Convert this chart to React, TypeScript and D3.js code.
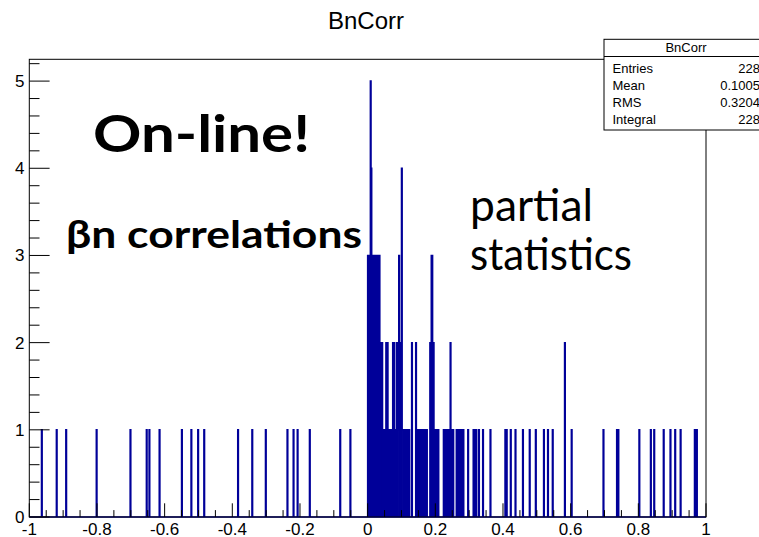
import React from "react";
import * as d3 from "d3";

// ---- data ----
const binCenters: number[] = [
  -0.963, -0.919, -0.891, -0.801, -0.701, -0.653, -0.645, -0.615, -0.549, -0.521, -0.501, -0.483,
  -0.383, -0.341, -0.301, -0.237, -0.219, -0.207, -0.171, -0.081, -0.051,
  0.001, 0.003, 0.005, 0.007, 0.009, 0.011,
  0.013, 0.015, 0.017, 0.019, 0.021, 0.023, 0.025, 0.027, 0.029, 0.031, 0.033, 0.035, 0.037,
  0.039, 0.041, 0.043,
  0.047, 0.051, 0.055, 0.059, 0.063, 0.067, 0.071, 0.075, 0.079, 0.083, 0.087, 0.091,
  0.093, 0.095, 0.099, 0.101, 0.103, 0.107, 0.111, 0.115, 0.119, 0.123,
  0.131, 0.143, 0.147, 0.151, 0.155, 0.159, 0.163, 0.167, 0.171, 0.175,
  0.185, 0.189, 0.191, 0.195, 0.199, 0.203, 0.209,
  0.225, 0.229, 0.233, 0.237, 0.241, 0.245, 0.249, 0.253,
  0.263, 0.267, 0.271, 0.275, 0.279, 0.283,
  0.297, 0.313, 0.317, 0.321, 0.329, 0.341,
  0.363, 0.407, 0.411, 0.423, 0.437, 0.459, 0.479, 0.497, 0.521, 0.533, 0.547, 0.583, 0.603,
  0.697, 0.737, 0.741, 0.803, 0.837, 0.847, 0.875, 0.895, 0.909, 0.925, 0.967, 0.973,
];
const binCounts: number[] = [
  1, 1, 1, 1, 1, 1, 1, 1, 1, 1, 1, 1,
  1, 1, 1, 1, 1, 1, 1, 1, 1,
  3, 2, 3, 2, 5, 4,
  1, 3, 1, 3, 1, 3, 1, 3, 1, 3, 1, 3, 1,
  2, 1, 2,
  1, 1, 2, 2, 1, 1, 1, 2, 2, 1, 2, 1,
  3, 1, 2, 4, 1, 1, 1, 1, 1, 1,
  2, 2, 1, 1, 1, 1, 1, 1, 1, 1,
  2, 3, 3, 2, 1, 1, 1,
  1, 1, 1, 1, 1, 2, 1, 1,
  1, 1, 1, 1, 1, 1,
  1, 1, 1, 1, 1, 1,
  1, 1, 1, 1, 1, 1, 1, 1, 1, 1, 1, 2, 1,
  1, 1, 1, 1, 1, 1, 1, 1, 1, 1, 1, 1,
];
const nBins = 1000;
const xRange: [number, number] = [-1, 1];
const yMax = 5.25;
const xTickLabels = ["-1", "-0.8", "-0.6", "-0.4", "-0.2", "0", "0.2", "0.4", "0.6", "0.8", "1"];
const yTickLabels = ["0", "1", "2", "3", "4", "5"];
const histTitle = "BnCorr";
const statNames = ["Entries", "Mean", "RMS", "Integral"];
const statValues = ["228", "0.1005", "0.3204", "228"];

// ---- layout ----
const W = 759, H = 537;
const L = 29.3, R = 706, T = 59.3, B = 517;
const HIST = "#000099";
const SANS = "'Liberation Sans', Arial, sans-serif";
const NOTE = "Lato, 'Open Sans', sans-serif";

export default function App() {
  const x = d3.scaleLinear().domain(xRange).range([L, R]);
  const y = d3.scaleLinear().domain([0, yMax]).range([B, T]);

  const counts = new Array(nBins).fill(0);
  const bw = (xRange[1] - xRange[0]) / nBins;
  binCenters.forEach((v, i) => {
    const k = Math.floor((v - xRange[0]) / bw);
    if (k >= 0 && k < nBins) counts[k] += binCounts[i];
  });

  // ROOT style outline (step) histogram, filled underneath
  const pts: [number, number][] = [[x(xRange[0]), y(0)]];
  counts.forEach((c, k) => {
    const x0 = x(xRange[0] + k * bw);
    const x1 = x(xRange[0] + (k + 1) * bw);
    pts.push([x0, y(c)]);
    pts.push([x1, y(c)]);
  });
  pts.push([x(xRange[1]), y(0)]);
  const path = d3.line()(pts) || "";

  const xMinor = d3.range(0, 41).map((i) => -1 + i * 0.05);
  const yMinor = d3.range(0, 27).map((i) => i * 0.2).filter((v) => v <= yMax);

  return (
    <svg width={W} height={H} style={{ position: "absolute", left: 0, top: 0, background: "#fff" }}>
      <rect x={0} y={0} width={W} height={H} fill="#fff" />
      {/* title */}
      <text x={366} y={29.3} textAnchor="middle" fontFamily={SANS} fontSize={24} fill="#000">
        {histTitle}
      </text>
      {/* histogram */}
      <path d={path + "Z"} fill={HIST} stroke={HIST} strokeWidth={1.5} strokeLinejoin="miter" />
      {/* frame */}
      <rect x={L} y={T} width={R - L} height={B - T} fill="none" stroke="#000" strokeWidth={1} />
      {/* x ticks */}
      {xMinor.map((v, i) => {
        const major = i % 4 === 0;
        const len = major ? 13.7 : 6.9;
        return <line key={"xt" + i} x1={x(v)} x2={x(v)} y1={B} y2={B - len} stroke="#000" strokeWidth={1} />;
      })}
      {xTickLabels.map((t, i) => (
        <text key={"xl" + i} x={x(-1 + i * 0.2)} y={535} textAnchor="middle" fontFamily={SANS} fontSize={17} fill="#000">
          {t}
        </text>
      ))}
      {/* y ticks */}
      {yMinor.map((v, i) => {
        const major = i % 5 === 0;
        const len = major ? 20.3 : 10.2;
        return <line key={"yt" + i} x1={L} x2={L + len} y1={y(v)} y2={y(v)} stroke="#000" strokeWidth={1} />;
      })}
      {yTickLabels.map((t, i) => (
        <text key={"yl" + i} x={24.5} y={y(i)} dy="0.35em" textAnchor="end" fontFamily={SANS} fontSize={17} fill="#000">
          {t}
        </text>
      ))}
      {/* stats box */}
      <rect x={604} y={39.3} width={170} height={90.7} fill="#fff" stroke="#000" strokeWidth={1} />
      <line x1={604} x2={774} y1={56.5} y2={56.5} stroke="#000" strokeWidth={1} />
      <text x={686} y={52} textAnchor="middle" fontFamily={SANS} fontSize={13} fill="#000">
        {histTitle}
      </text>
      {statNames.map((n, i) => (
        <g key={"st" + i}>
          <text x={612.5} y={72.5 + i * 17} fontFamily={SANS} fontSize={13} fill="#000">
            {n}
          </text>
          <text x={760} y={72.5 + i * 17} textAnchor="end" fontFamily={SANS} fontSize={13} fill="#000">
            {statValues[i]}
          </text>
        </g>
      ))}
      {/* annotations */}
      <text x={93} y={152} fontFamily={NOTE} fontWeight="bold" fontSize={52} fill="#000" textLength={217} lengthAdjust="spacingAndGlyphs">
        On-line!
      </text>
      <text x={66} y={248} fontFamily={NOTE} fontWeight="bold" fontSize={38} fill="#000" textLength={296} lengthAdjust="spacingAndGlyphs">
        βn correlations
      </text>
      <text x={470} y={221} fontFamily={NOTE} fontSize={44} fill="#000" textLength={123} lengthAdjust="spacingAndGlyphs">
        partial
      </text>
      <text x={470} y={270} fontFamily={NOTE} fontSize={44} fill="#000" textLength={162} lengthAdjust="spacingAndGlyphs">
        statistics
      </text>
    </svg>
  );
}
